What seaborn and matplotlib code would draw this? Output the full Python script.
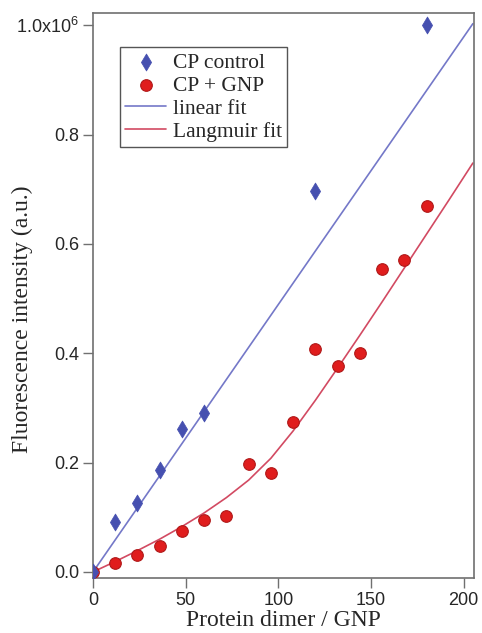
import numpy as np
import pandas as pd
import matplotlib
matplotlib.use("Agg")
import matplotlib.pyplot as plt
import seaborn as sns

# =============================
# Données
# =============================
ctrl_x = [0, 12, 24, 36, 48, 60, 120, 180]
ctrl_y = [0.0, 0.091, 0.126, 0.186, 0.261, 0.290, 0.697, 1.0]

gnp_x = [0, 12, 24, 36, 48, 60, 72, 84, 96, 108, 120, 132, 144, 156, 168, 180]
gnp_y = [0.0, 0.016, 0.031, 0.048, 0.075, 0.095, 0.102, 0.197, 0.181,
         0.274, 0.408, 0.377, 0.400, 0.554, 0.570, 0.669]

lin_x = [0, 205]
lin_y = [0.0, 1.003]

lang_x = [0, 12, 24, 36, 48, 60, 72, 84, 96, 108, 120, 132, 144, 156, 168, 180, 192, 205]
lang_y = [0.0, 0.019, 0.039, 0.060, 0.083, 0.108, 0.136, 0.168, 0.208, 0.258,
          0.314, 0.373, 0.433, 0.494, 0.556, 0.618, 0.680, 0.748]

y_ticks = [0.0, 0.2, 0.4, 0.6, 0.8, 1.0]
y_ticklabels = ["0.0", "0.2", "0.4", "0.6", "0.8", "1.0x10$^{6}$"]
x_ticks = [0, 50, 100, 150, 200]

# =============================
# Style
# =============================
sns.set_style("ticks")
plt.rcParams["font.family"] = ["Liberation Sans", "DejaVu Sans"]
plt.rcParams["mathtext.fontset"] = "custom"
plt.rcParams["mathtext.rm"] = "Liberation Sans"
plt.rcParams["mathtext.it"] = "Liberation Sans"

serif = ["Liberation Serif", "DejaVu Serif"]
edge = "#707070"

fig = plt.figure(figsize=(4.82, 6.33), dpi=100)
ax = fig.add_axes([0.193, 0.087, 0.790, 0.892])

df_lin = pd.DataFrame({"x": lin_x, "y": lin_y})
df_lang = pd.DataFrame({"x": lang_x, "y": lang_y})
df_ctrl = pd.DataFrame({"x": ctrl_x, "y": ctrl_y})
df_gnp = pd.DataFrame({"x": gnp_x, "y": gnp_y})

sns.lineplot(data=df_lin, x="x", y="y", ax=ax, color="#7478c8", lw=1.2,
             label="linear fit", zorder=2)
sns.lineplot(data=df_lang, x="x", y="y", ax=ax, color="#d24a62", lw=1.2,
             label="Langmuir fit", zorder=2)
sns.scatterplot(data=df_gnp, x="x", y="y", ax=ax, marker="o", s=70,
                color="#e01d1d", edgecolor="#b01818", linewidth=0.8,
                label="CP + GNP", zorder=3)
sns.scatterplot(data=df_ctrl, x="x", y="y", ax=ax, marker="d", s=75,
                color="#4650b0", edgecolor="#4650b0", linewidth=0.5,
                label="CP control", zorder=4)

ax.set_xlim(0, 205.5)
ax.set_ylim(-0.011, 1.022)
ax.set_xticks(x_ticks)
ax.set_yticks(y_ticks)
ax.set_yticklabels(y_ticklabels)
ax.tick_params(labelsize=13, direction="out", length=7, width=1, color=edge, pad=3)

for s in ax.spines.values():
    s.set_visible(True)
    s.set_color(edge)
    s.set_linewidth(1.2)

ax.set_xlabel("Protein dimer / GNP", family=serif, fontsize=17, labelpad=1)
ax.set_ylabel("Fluorescence intensity (a.u.)", family=serif, fontsize=17)
ax.yaxis.set_label_coords(-0.158, 0.458)

# ordre de la légende : points puis ajustements
h, l = ax.get_legend_handles_labels()
order = [l.index("CP control"), l.index("CP + GNP"), l.index("linear fit"), l.index("Langmuir fit")]
leg = ax.legend([h[i] for i in order], [l[i] for i in order],
                loc="upper left", bbox_to_anchor=(0.071, 0.94),
                prop={"family": serif, "size": 15.5}, frameon=True, fancybox=False,
                edgecolor="#555555", framealpha=1, borderpad=0.25,
                labelspacing=0.14, handlelength=1.9, handletextpad=0.3,
                borderaxespad=0)
leg.get_frame().set_linewidth(1.0)

fig.savefig("out.png", dpi=100)
